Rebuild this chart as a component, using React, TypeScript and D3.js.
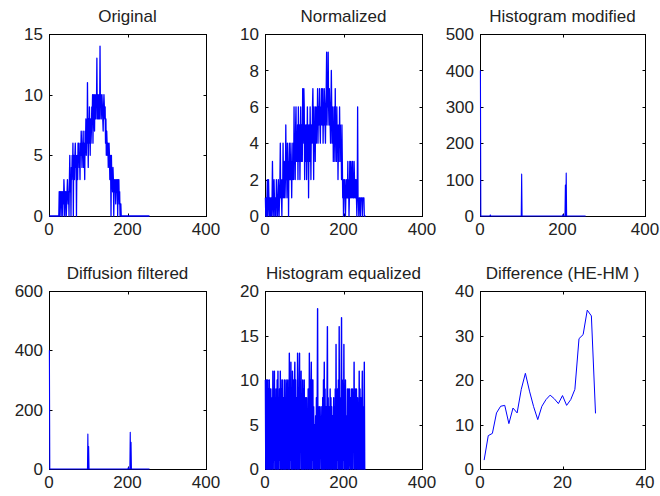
import React from 'react';
import * as d3 from 'd3';

// histogram counts, one value per grey level (0..255)
const originalCounts = [
  0, 0, 0, 0, 0, 0, 0, 0, 0, 0, 0, 0, 0, 0, 0, 0,
  0, 0, 0, 0, 0, 0, 0, 0, 0, 2, 0, 2, 1, 2, 0, 2,
  1, 2, 0, 2, 1, 3, 2, 0, 2, 1, 2, 0, 1, 2, 3, 2,
  1, 2, 0, 3, 5, 2, 3, 0, 4, 3, 5, 4, 6, 0, 5, 4,
  3, 5, 6, 4, 5, 0, 4, 5, 3, 6, 5, 6, 4, 5, 3, 6,
  5, 7, 6, 4, 6, 5, 7, 4, 6, 5, 3, 7, 6, 8, 5, 7,
  6, 11, 7, 4, 8, 6, 9, 7, 5, 8, 6, 7, 9, 8, 10, 6,
  9, 10, 8, 7, 10, 9, 8, 10, 9, 13, 8, 9, 10, 8, 9, 10,
  8, 14, 9, 10, 8, 9, 10, 9, 8, 7, 9, 10, 9, 8, 9, 6,
  8, 5, 7, 6, 5, 6, 4, 5, 6, 5, 3, 5, 4, 0, 5, 3,
  3, 2, 4, 3, 0, 2, 3, 2, 3, 1, 2, 3, 2, 3, 0, 3,
  2, 3, 1, 2, 0, 1, 1, 0, 0, 0, 0, 0, 0, 0, 0, 0,
  0, 0, 0, 0, 0, 0, 0, 0, 0, 0, 0, 0, 0, 0, 0, 0,
  0, 0, 0, 0, 0, 0, 0, 0, 0, 0, 0, 0, 0, 0, 0, 0,
  0, 0, 0, 0, 0, 0, 0, 0, 0, 0, 0, 0, 0, 0, 0, 0,
  0, 0, 0, 0, 0, 0, 0, 0, 0, 0, 0, 0, 0, 0, 0, 0,
];

const normalizedCounts = [
  1, 0, 1, 0, 1, 2, 0, 1, 2, 1, 0, 1, 1, 0, 1, 1,
  0, 1, 3, 1, 0, 1, 2, 1, 0, 1, 1, 0, 2, 1, 1, 0,
  1, 2, 1, 0, 1, 2, 4, 1, 2, 1, 0, 2, 1, 4, 2, 1,
  3, 2, 1, 2, 5, 2, 3, 1, 4, 2, 3, 0, 3, 4, 2, 3,
  2, 4, 3, 1, 3, 2, 4, 3, 2, 6, 3, 4, 2, 5, 6, 3,
  4, 3, 5, 2, 6, 4, 3, 5, 2, 4, 6, 3, 5, 4, 3, 7,
  4, 5, 7, 6, 2, 5, 4, 3, 5, 2, 4, 6, 3, 5, 1, 4,
  5, 3, 6, 4, 2, 5, 4, 4, 6, 7, 5, 2, 6, 4, 5, 3,
  6, 5, 4, 6, 5, 7, 4, 6, 5, 6, 7, 5, 4, 6, 5, 7,
  6, 5, 7, 4, 6, 5, 7, 6, 5, 4, 6, 7, 9, 5, 7, 6,
  9, 6, 5, 7, 6, 5, 4, 6, 8, 6, 4, 5, 6, 3, 5, 4,
  6, 3, 7, 4, 5, 3, 6, 4, 5, 2, 4, 5, 3, 6, 4, 5,
  3, 4, 2, 5, 3, 1, 2, 0, 2, 1, 2, 1, 0, 1, 2, 1,
  2, 1, 3, 1, 2, 0, 1, 3, 2, 1, 3, 2, 1, 2, 3, 1,
  2, 1, 3, 2, 1, 2, 1, 2, 1, 0, 1, 6, 1, 1, 0, 1,
  1, 1, 0, 1, 1, 1, 1, 0, 1, 1, 1, 1, 0, 0, 0, 0,
];

// sparse histograms: only the non-empty bins
const modifiedBins = [0, 24, 100, 200, 206, 208];
const modifiedCounts = [400, 3, 115, 4, 85, 118];

const diffusionBins = [0, 98, 100, 201, 206, 208];
const diffusionCounts = [400, 118, 76, 5, 124, 90];

const equalizedCounts = [
  10, 0, 10, 0, 10, 0, 10, 0, 9, 0, 10, 0, 9, 0, 9, 2,
  0, 8, 0, 11, 0, 9, 1, 11, 0, 4, 0, 9, 2, 0, 10, 0,
  11, 0, 8, 0, 9, 1, 11, 0, 10, 0, 9, 0, 10, 2, 0, 8,
  0, 10, 0, 7, 0, 10, 2, 0, 9, 10, 0, 8, 0, 13, 0, 9,
  1, 12, 0, 9, 0, 11, 0, 10, 2, 0, 9, 12, 0, 10, 0, 8,
  1, 0, 13, 0, 9, 0, 10, 13, 0, 9, 2, 11, 0, 8, 0, 10,
  0, 9, 0, 10, 1, 0, 8, 0, 7, 8, 0, 6, 0, 9, 2, 0,
  13, 0, 10, 0, 9, 12, 0, 10, 1, 10, 0, 7, 0, 5, 0, 3,
  6, 0, 8, 0, 7, 18, 0, 7, 0, 6, 7, 0, 5, 2, 7, 0,
  6, 0, 8, 0, 10, 0, 12, 0, 9, 2, 0, 7, 0, 8, 16, 0,
  8, 0, 7, 1, 0, 9, 0, 8, 0, 7, 0, 6, 2, 0, 8, 0,
  7, 0, 9, 0, 14, 0, 8, 1, 9, 0, 10, 0, 16, 0, 8, 2,
  0, 9, 17, 0, 10, 0, 9, 1, 14, 0, 8, 0, 10, 0, 6, 2,
  0, 9, 0, 9, 0, 8, 9, 1, 0, 8, 0, 9, 8, 0, 9, 0,
  7, 2, 12, 0, 9, 0, 9, 0, 9, 1, 0, 8, 0, 7, 0, 11,
  0, 9, 0, 8, 2, 0, 7, 11, 0, 7, 1, 0, 12, 0, 0, 0,
];

const differenceValues = [
  2, 7.5, 8, 12.6, 14.1, 14.3, 10.2, 13.7, 12.6, 17.9, 21.5, 17.5, 14, 11.1,
  14.1, 15.6, 16.6, 15.8, 14.7, 16.5, 14.3, 15.6, 17.9, 29.3, 30.2, 35.7, 34.4, 12.5,
];

const titles = ['Original', 'Normalized', 'Histogram modified', 'Diffusion filtered', 'Histogram equalized', 'Difference (HE-HM )'];
const histXTicks = [0, 200, 400];
const diffXTicks = [0, 20, 40];
const yTickSets = [
  [0, 5, 10, 15],
  [0, 2, 4, 6, 8, 10],
  [0, 100, 200, 300, 400, 500],
  [0, 200, 400, 600],
  [0, 5, 10, 15, 20],
  [0, 10, 20, 30, 40],
];

const sparse = (bins: number[], counts: number[]) =>
  Array.from({ length: 256 }, (_, i) => {
    const k = bins.indexOf(i);
    return k >= 0 ? counts[k] : 0;
  });

// MATLAB plot(h): x runs 1..n
const toPoints = (vals: number[]) => vals.map((v, i) => [i + 1, v] as [number, number]);

const FONT = '"Liberation Sans", Arial, sans-serif';

type PanelProps = {
  left: number; right: number; top: number; bottom: number;
  title: string; points: [number, number][];
  xTicks: number[]; yTicks: number[]; lineWidth: number;
};

const Panel = ({ left, right, top, bottom, title, points, xTicks, yTicks, lineWidth }: PanelProps) => {
  const x = d3.scaleLinear().domain([xTicks[0], xTicks[xTicks.length - 1]]).range([left, right]);
  const y = d3.scaleLinear().domain([yTicks[0], yTicks[yTicks.length - 1]]).range([bottom, top]);
  const line = d3.line<[number, number]>().x(d => x(d[0])).y(d => y(d[1]));
  const tl = 2.5;
  return (
    <g>
      <text x={(left + right) / 2} y={top - 12} textAnchor="middle" fontSize={17} fill="#222" fontFamily={FONT}>{title}</text>
      <rect x={left + 0.5} y={top + 0.5} width={right - left} height={bottom - top} fill="#fff" stroke="#000" strokeWidth={1} />
      {xTicks.map(t => (
        <g key={'x' + t}>
          <line x1={Math.round(x(t)) + 0.5} x2={Math.round(x(t)) + 0.5} y1={bottom} y2={bottom - tl} stroke="#000" />
          <line x1={Math.round(x(t)) + 0.5} x2={Math.round(x(t)) + 0.5} y1={top + 1} y2={top + 1 + tl} stroke="#000" />
          <text x={x(t)} y={bottom + 19} textAnchor="middle" fontSize={17} fill="#222" fontFamily={FONT}>{t}</text>
        </g>
      ))}
      {yTicks.map(t => (
        <g key={'y' + t}>
          <line x1={left + 1} x2={left + 1 + tl} y1={Math.round(y(t)) + 0.5} y2={Math.round(y(t)) + 0.5} stroke="#000" />
          <line x1={right} x2={right - tl} y1={Math.round(y(t)) + 0.5} y2={Math.round(y(t)) + 0.5} stroke="#000" />
          <text x={left - 6} y={y(t)} dy="0.36em" textAnchor="end" fontSize={17} fill="#222" fontFamily={FONT}>{t}</text>
        </g>
      ))}
      <path d={line(points) ?? ''} fill="none" stroke="#0000ff" strokeWidth={lineWidth} strokeLinejoin="round" />
    </g>
  );
};

export default function App() {
  const cols = [[49, 206], [265, 422], [480, 645]];
  const rows = [[34, 216], [291, 469]];
  const widths = [1.3, 1.3, 1.1, 1.1, 1.4, 1];
  const series = [
    toPoints(originalCounts),
    toPoints(normalizedCounts),
    toPoints(sparse(modifiedBins, modifiedCounts)),
    toPoints(sparse(diffusionBins, diffusionCounts)),
    toPoints(equalizedCounts),
    toPoints(differenceValues),
  ];
  return (
    <svg width={660} height={496} style={{ position: 'absolute', left: 0, top: 0, background: '#fff' }}>
      {series.map((pts, i) => {
        const [l, r] = cols[i % 3];
        const [t, b] = rows[Math.floor(i / 3)];
        return (
          <Panel key={i} left={l} right={r} top={t} bottom={b} title={titles[i]} points={pts}
            xTicks={i === 5 ? diffXTicks : histXTicks} yTicks={yTickSets[i]} lineWidth={widths[i]} />
        );
      })}
    </svg>
  );
}
